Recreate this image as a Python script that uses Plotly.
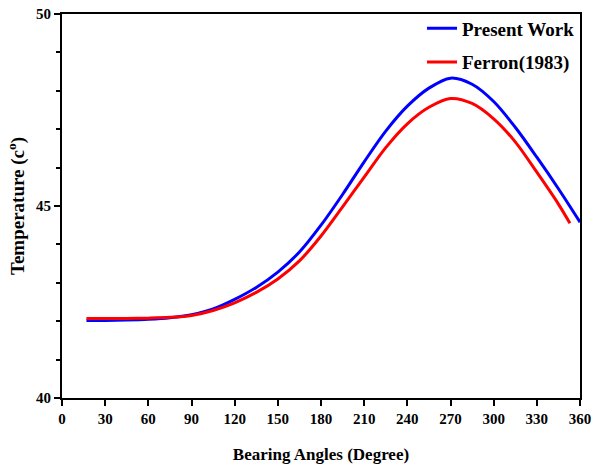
import plotly.graph_objects as go

# Bearing angle (degree)
angle_present = [17, 30, 45, 60, 75, 90, 105, 120, 135, 150, 165, 180, 195, 210,
                 225, 240, 255, 270, 285, 300, 315, 330, 345, 360]
temp_present = [42.02, 42.02, 42.03, 42.05, 42.09, 42.17, 42.32, 42.57, 42.88, 43.28,
                43.8, 44.5, 45.3, 46.15, 46.95, 47.6, 48.07, 48.33, 48.17, 47.72,
                47.05, 46.27, 45.45, 44.58]

angle_ferron = [17, 30, 45, 60, 75, 90, 105, 120, 135, 150, 165, 180, 195, 210,
                225, 240, 255, 270, 285, 300, 315, 330, 345, 353]
temp_ferron = [42.07, 42.07, 42.07, 42.08, 42.1, 42.15, 42.28, 42.48, 42.75, 43.1,
               43.57, 44.22, 44.98, 45.75, 46.52, 47.14, 47.57, 47.8, 47.67, 47.27,
               46.67, 45.88, 45.05, 44.55]

x_ticks = list(range(0, 361, 30))
y_ticks = [40, 45, 50]

FONT = "Liberation Serif"

fig = go.Figure()
fig.add_trace(go.Scatter(x=angle_present, y=temp_present, mode="lines",
                         name="Present Work", legendgroup="a",
                         line=dict(color="#0000FF", width=3, shape="spline", smoothing=0.9)))
fig.add_trace(go.Scatter(x=angle_ferron, y=temp_ferron, mode="lines",
                         name="Ferron(1983)", legendgroup="b",
                         line=dict(color="#FF0000", width=3, shape="spline", smoothing=0.9)))

fig.update_layout(
    width=592, height=470,
    margin=dict(l=62, r=12, t=14, b=72, autoexpand=False),
    paper_bgcolor="white", plot_bgcolor="white",
    font=dict(family=FONT, color="black"),
    showlegend=True,
    legend=dict(x=1, xanchor="right", y=1.012, yanchor="top",
                bgcolor="rgba(0,0,0,0)", borderwidth=0,
                font=dict(family=FONT, size=19, color="black", weight="bold"),
                tracegroupgap=6, traceorder="grouped"),
    xaxis=dict(range=[0, 360], tickvals=x_ticks, ticktext=[str(v) for v in x_ticks],
               automargin=False,
               showgrid=False, zeroline=False, showline=True, linecolor="black",
               linewidth=2, mirror=True, ticks="outside", ticklen=6, tickwidth=2,
               tickcolor="black",
               tickfont=dict(family=FONT, size=15, color="black", weight="bold"),
               title=dict(text="Bearing Angles (Degree)", standoff=22,
                          font=dict(family=FONT, size=17, color="black", weight="bold"))),
    yaxis=dict(range=[40, 50], tickvals=y_ticks, ticktext=[str(v) for v in y_ticks],
               automargin=False,
               showgrid=False, zeroline=False, showline=True, linecolor="black",
               linewidth=2, mirror=True, ticks="outside", ticklen=6, tickwidth=2,
               tickcolor="black",
               minor=dict(dtick=1, ticks="outside", ticklen=4, tickwidth=2,
                          tickcolor="black", showgrid=False),
               tickfont=dict(family=FONT, size=15, color="black", weight="bold"),
               title=dict(text="Temperature (c<sup>o</sup>)", standoff=6,
                          font=dict(family=FONT, size=19, color="black", weight="bold"))),
)

fig.write_html("out.html")
